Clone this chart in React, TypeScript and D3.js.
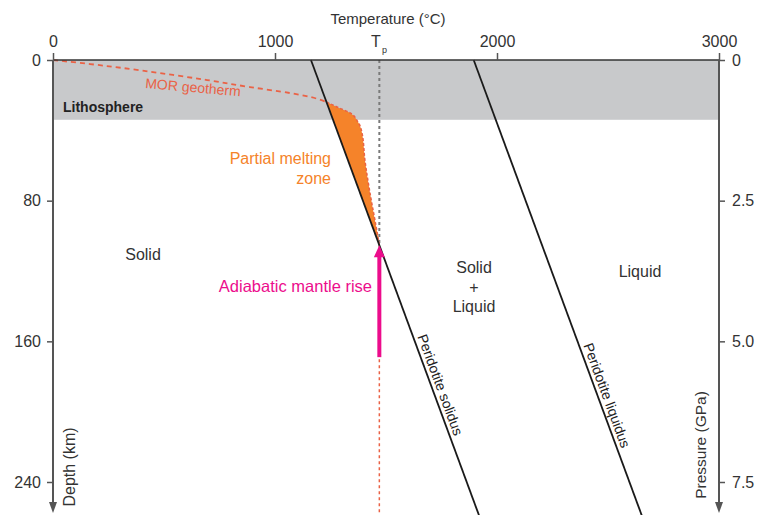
import React, { useEffect, useRef } from "react";
import * as d3 from "d3";

const W = 758;
const H = 515;
const FONT = "'Liberation Sans', Arial, Helvetica, sans-serif";

// axis ticks
const tempTicks = [0, 1000, 2000, 3000];
const depthTicks = [0, 80, 160, 240];
const pressureTicks = [0, 2.5, 5.0, 7.5];

// key values
const lithosphereBase = 34; // km
const potentialTemp = 1470; // °C (Tp)

// peridotite solidus / liquidus (straight in T–depth)
const solidusDepth = [0, 260];
const solidusTemp = [1162, 1922];
const liquidusDepth = [0, 260];
const liquidusTemp = [1895, 2655];

// conductive MOR geotherm from the surface to the solidus
const geothermDepth = [0, 2.3, 5.1, 8.5, 11.4, 15.4, 18.8, 21.0, 23.9];
const geothermTemp = [0, 167, 347, 541, 694, 887, 1068, 1158, 1232];

// melting path inside the partial melting zone (solidus junction -> Tp)
const meltDepth = [23.9, 26.7, 30.1, 35.3, 41.5, 56.9, 75.7, 91, 100.7, 105.4];
const meltTemp = [1232, 1279, 1338, 1374, 1392, 1405, 1428, 1450, 1464, 1470];

// adiabat below the melting zone and the rise arrow
const adiabatDepth = [105.4, 260];
const riseStartDepth = 169;

const x = d3.scaleLinear().domain([0, 3000]).range([53, 719]);
const y = d3.scaleLinear().domain([0, 240]).range([60, 482]);
const p = d3.scaleLinear().domain([0, 7.5]).range([60, 482]);

const zip = (ts: number[], ds: number[]) => ts.map((t, i) => [t, ds[i]] as [number, number]);

const solidusPts = zip(solidusTemp, solidusDepth);
const liquidusPts = zip(liquidusTemp, liquidusDepth);
const geothermPts = zip(geothermTemp, geothermDepth);
const meltPts = zip(meltTemp, meltDepth);
const adiabatPts = adiabatDepth.map((d) => [potentialTemp, d] as [number, number]);

// depth where the solidus reaches Tp
const solSlope = (solidusTemp[1] - solidusTemp[0]) / (solidusDepth[1] - solidusDepth[0]);
const tipDepth = solidusDepth[0] + (potentialTemp - solidusTemp[0]) / solSlope;

const straight = d3
  .line<[number, number]>()
  .x((d) => x(d[0]))
  .y((d) => y(d[1]));
const smooth = d3
  .line<[number, number]>()
  .x((d) => x(d[0]))
  .y((d) => y(d[1]))
  .curve(d3.curveMonotoneY);

const RED = "#ea6246";
const ORANGE = "#f5832a";
const PINK = "#ec0c8c";
const TEXT = "#333";
const AXIS = "#555";

function lineLabel(pts: [number, number][], depth: number, offset: number) {
  const [a, b] = pts;
  const t = a[0] + ((b[0] - a[0]) * (depth - a[1])) / (b[1] - a[1]);
  const x0 = x(a[0]), y0 = y(a[1]), x1 = x(b[0]), y1 = y(b[1]);
  const ang = Math.atan2(y1 - y0, x1 - x0);
  const px = x(t) + Math.sin(ang) * offset;
  const py = y(depth) - Math.cos(ang) * offset;
  return { px, py, deg: (ang * 180) / Math.PI };
}

export default function App() {
  const topRef = useRef<SVGGElement>(null);
  const leftRef = useRef<SVGGElement>(null);
  const rightRef = useRef<SVGGElement>(null);

  useEffect(() => {
    const style = (g: d3.Selection<SVGGElement, unknown, null, undefined>) => {
      g.attr("font-family", FONT).attr("font-size", 16);
      g.select(".domain").remove();
      g.selectAll(".tick line").attr("stroke", AXIS).attr("stroke-width", 1.5);
      g.selectAll(".tick text").attr("fill", TEXT);
    };
    const gt = d3.select(topRef.current!);
    gt.call(
      d3.axisTop(x).tickValues(tempTicks).tickSize(7).tickPadding(6).tickFormat(d3.format("d")) as any
    );
    style(gt as any);
    const gl = d3.select(leftRef.current!);
    gl.call(d3.axisLeft(y).tickValues(depthTicks).tickSize(6).tickPadding(6).tickFormat(d3.format("d")) as any);
    style(gl as any);
    const gr = d3.select(rightRef.current!);
    gr.call(
      d3
        .axisRight(p)
        .tickValues(pressureTicks)
        .tickSize(6)
        .tickPadding(7)
        .tickFormat((d: any) => (d === 0 ? "0" : d3.format(".1f")(d))) as any
    );
    style(gr as any);
  }, []);

  const meltZone = smooth(meltPts) + "Z";
  const tipY = y(tipDepth);
  const xTp = x(potentialTemp);
  const solLab = lineLabel(solidusPts, 158, 4);
  const liqLab = lineLabel(liquidusPts, 163, 4);

  return (
    <svg
      width={W}
      height={H}
      style={{ position: "absolute", left: 0, top: 0, background: "#fff" }}
      fontFamily={FONT}
    >
      {/* lithosphere band */}
      <rect x={x(0)} y={y(0)} width={x(3000) - x(0)} height={y(lithosphereBase) - y(0)} fill="#c8c9cb" />
      <text x={63} y={112} fontSize={14} fontWeight="bold" fill="#222">
        Lithosphere
      </text>

      {/* Tp reference line */}
      <line x1={xTp} x2={xTp} y1={y(0)} y2={tipY} stroke="#7a7a7a" strokeWidth={2} strokeDasharray="3,3" />

      {/* partial melting zone */}
      <path d={meltZone} fill={ORANGE} />

      {/* geotherm */}
      <path d={smooth(geothermPts) ?? ""} fill="none" stroke={RED} strokeWidth={1.8} strokeDasharray="5,4" />
      <path d={smooth(meltPts) ?? ""} fill="none" stroke={RED} strokeWidth={1.5} strokeDasharray="3,2" />
      <path d={straight(adiabatPts) ?? ""} fill="none" stroke={RED} strokeWidth={1.5} strokeDasharray="3,3" />

      {/* solidus and liquidus */}
      <path d={straight(solidusPts) ?? ""} fill="none" stroke="#1a1a1a" strokeWidth={1.8} />
      <path d={straight(liquidusPts) ?? ""} fill="none" stroke="#1a1a1a" strokeWidth={1.8} />

      {/* adiabatic rise arrow */}
      <line x1={xTp} x2={xTp} y1={y(riseStartDepth)} y2={tipY + 9} stroke={PINK} strokeWidth={4} />
      <path d={`M${xTp},${tipY} L${xTp - 5.5},${tipY + 12} L${xTp + 5.5},${tipY + 12} Z`} fill={PINK} />

      {/* top axis */}
      <line x1={x(0)} x2={x(3000)} y1={y(0)} y2={y(0)} stroke="#333" strokeWidth={1.6} />
      <g ref={topRef} transform={`translate(0,${y(0)})`} />
      <text x={388} y={24} fontSize={15} textAnchor="middle" fill={TEXT}>
        Temperature (°C)
      </text>
      <text x={376} y={47} fontSize={16} textAnchor="middle" fill={TEXT}>
        T
      </text>
      <text x={384.5} y={53} fontSize={9} textAnchor="middle" fill={TEXT}>
        p
      </text>

      {/* left depth axis */}
      <line x1={x(0)} x2={x(0)} y1={y(0)} y2={504} stroke={AXIS} strokeWidth={2} />
      <path d={`M${x(0) - 4},${502} L${x(0) + 4},${502} L${x(0)},${513} Z`} fill={AXIS} />
      <g ref={leftRef} transform={`translate(${x(0)},0)`} />
      <text transform="translate(74.5,467) rotate(-90)" fontSize={16} textAnchor="middle" fill={TEXT}>
        Depth (km)
      </text>

      {/* right pressure axis */}
      <line x1={x(3000)} x2={x(3000)} y1={y(0)} y2={504} stroke={AXIS} strokeWidth={2} />
      <path d={`M${x(3000) - 4},${502} L${x(3000) + 4},${502} L${x(3000)},${513} Z`} fill={AXIS} />
      <g ref={rightRef} transform={`translate(${x(3000)},0)`} />
      <text transform="translate(705.5,445) rotate(-90)" fontSize={15.5} textAnchor="middle" fill={TEXT}>
        Pressure (GPa)
      </text>

      {/* region labels */}
      <text x={143} y={260} fontSize={16} textAnchor="middle" fill={TEXT}>
        Solid
      </text>
      <text x={474} y={273} fontSize={16} textAnchor="middle" fill={TEXT}>
        Solid
      </text>
      <text x={474} y={293} fontSize={16} textAnchor="middle" fill={TEXT}>
        +
      </text>
      <text x={474} y={312} fontSize={16} textAnchor="middle" fill={TEXT}>
        Liquid
      </text>
      <text x={640} y={277} fontSize={16} textAnchor="middle" fill={TEXT}>
        Liquid
      </text>

      <text x={331} y={164} fontSize={16} textAnchor="end" fill={ORANGE}>
        Partial melting
      </text>
      <text x={331} y={184} fontSize={16} textAnchor="end" fill={ORANGE}>
        zone
      </text>
      <text x={372} y={292} fontSize={16.5} textAnchor="end" fill={PINK}>
        Adiabatic mantle rise
      </text>
      <text transform="translate(145,88) rotate(5)" fontSize={14} fill={RED}>
        MOR geotherm
      </text>

      <text transform={`translate(${solLab.px},${solLab.py}) rotate(${solLab.deg})`} fontSize={14} fill="#222">
        Peridotite solidus
      </text>
      <text transform={`translate(${liqLab.px},${liqLab.py}) rotate(${liqLab.deg})`} fontSize={14} fill="#222">
        Peridotite liquidus
      </text>
    </svg>
  );
}
